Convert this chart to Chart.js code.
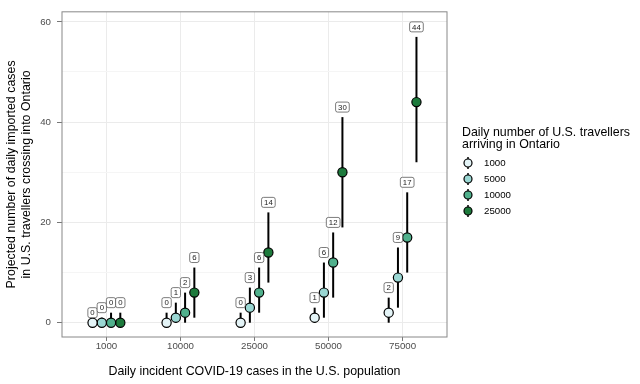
<!DOCTYPE html>
<html>
<head>
<meta charset="utf-8">
<script src="https://cdn.jsdelivr.net/npm/chart.js@4"></script>
<style>
html, body { margin: 0; padding: 0; background: #fff; }
</style>
</head>
<body>
<canvas id="chart" width="640" height="384"></canvas>
<script>
// categories
var cases = ['1000', '10000', '25000', '50000', '75000'];
var travellers = ['1000', '5000', '10000', '25000'];
var yTicks = [0, 20, 40, 60];

// projected cases (estimate, lower, upper) per traveller volume
var est1000 = [0, 0, 0, 1, 2];
var lo1000 = [0, 0, 0, 0, 0];
var hi1000 = [0, 2, 2, 3, 5];

var est5000 = [0, 1, 3, 6, 9];
var lo5000 = [0, 0, 0, 1, 3];
var hi5000 = [1, 4, 7, 12, 15];

var est10000 = [0, 2, 6, 12, 17];
var lo10000 = [0, 0, 2, 5, 10];
var hi10000 = [2, 6, 11, 18, 26];

var est25000 = [0, 6, 14, 30, 44];
var lo25000 = [0, 1, 8, 19, 32];
var hi25000 = [2, 11, 22, 41, 57];

var colors = ['#e4f4f7', '#9ad7d3', '#50b08c', '#1d7a3c'];
var dodge = [-0.1875, -0.0625, 0.0625, 0.1875];
var FONT = '"Liberation Sans", Arial, sans-serif';

var series = [
    { est: est1000, lo: lo1000, hi: hi1000 },
    { est: est5000, lo: lo5000, hi: hi5000 },
    { est: est10000, lo: lo10000, hi: hi10000 },
    { est: est25000, lo: lo25000, hi: hi25000 }
];

var datasets = series.map(function (s, j) {
    return {
        label: travellers[j],
        data: s.est.map(function (v, i) { return { x: i + 1 + dodge[j], y: v }; }),
        backgroundColor: colors[j],
        borderColor: '#000',
        borderWidth: 1.2,
        pointRadius: 4.6,
        pointHoverRadius: 4.6
    };
});

function roundBox(ctx, x, y, w, h, r) {
    ctx.beginPath();
    ctx.moveTo(x + r, y);
    ctx.arcTo(x + w, y, x + w, y + h, r);
    ctx.arcTo(x + w, y + h, x, y + h, r);
    ctx.arcTo(x, y + h, x, y, r);
    ctx.arcTo(x, y, x + w, y, r);
    ctx.closePath();
}

var errorBars = {
    id: 'errorBars',
    beforeDatasetsDraw: function (chart) {
        var ctx = chart.ctx, xs = chart.scales.x, ys = chart.scales.y;
        ctx.save();
        ctx.strokeStyle = '#000';
        ctx.lineWidth = 2;
        series.forEach(function (s, j) {
            s.est.forEach(function (v, i) {
                var x = xs.getPixelForValue(i + 1 + dodge[j]);
                ctx.beginPath();
                ctx.moveTo(x, ys.getPixelForValue(s.lo[i]));
                ctx.lineTo(x, ys.getPixelForValue(s.hi[i]));
                ctx.stroke();
            });
        });
        ctx.restore();
    },
    afterDatasetsDraw: function (chart) {
        // value labels above each bar
        var ctx = chart.ctx, xs = chart.scales.x, ys = chart.scales.y;
        ctx.save();
        ctx.font = '7.8px ' + FONT;
        ctx.textAlign = 'center';
        ctx.textBaseline = 'middle';
        series.forEach(function (s, j) {
            s.est.forEach(function (v, i) {
                var x = xs.getPixelForValue(i + 1 + dodge[j]);
                var y = ys.getPixelForValue(s.hi[i] + 2);
                var txt = String(v);
                var w = ctx.measureText(txt).width + 5;
                var h = 10;
                roundBox(ctx, x - w / 2, y - h / 2, w, h, 2);
                ctx.fillStyle = '#fff';
                ctx.fill();
                ctx.strokeStyle = '#444';
                ctx.lineWidth = 0.7;
                ctx.stroke();
                ctx.fillStyle = '#222';
                ctx.fillText(txt, x, y + 0.5);
            });
        });
        ctx.restore();
    },
    afterDraw: function (chart) {
        var ctx = chart.ctx, a = chart.chartArea;
        ctx.save();
        // panel border
        ctx.strokeStyle = '#888';
        ctx.lineWidth = 1;
        ctx.strokeRect(a.left, a.top, a.right - a.left, a.bottom - a.top);
        // legend
        ctx.fillStyle = '#000';
        ctx.font = '12.4px ' + FONT;
        ctx.textAlign = 'left';
        ctx.textBaseline = 'middle';
        ctx.fillText('Daily number of U.S. travellers', 462, 133);
        ctx.fillText('arriving in Ontario', 462, 145);
        ctx.font = '9.7px ' + FONT;
        travellers.forEach(function (t, j) {
            var y = 163 + j * 16;
            var cx = 468;
            ctx.strokeStyle = '#000';
            ctx.lineWidth = 1.5;
            ctx.beginPath();
            ctx.moveTo(cx, y - 6);
            ctx.lineTo(cx, y + 6);
            ctx.stroke();
            ctx.beginPath();
            ctx.arc(cx, y, 4, 0, Math.PI * 2);
            ctx.fillStyle = colors[j];
            ctx.fill();
            ctx.lineWidth = 1.2;
            ctx.stroke();
            ctx.fillStyle = '#000';
            ctx.fillText(t, 484, y);
        });
        ctx.restore();
    }
};

new Chart(document.getElementById('chart').getContext('2d'), {
    type: 'scatter',
    data: { datasets: datasets },
    options: {
        responsive: false,
        animation: false,
        layout: { padding: { top: 5, right: 193, left: 0, bottom: 0 } },
        plugins: {
            legend: { display: false },
            tooltip: { enabled: false }
        },
        scales: {
            x: {
                type: 'linear',
                min: 0.4,
                max: 5.6,
                afterBuildTicks: function (s) {
                    s.ticks = cases.map(function (c, i) { return { value: i + 1 }; });
                },
                afterFit: function (s) { s.height = 47; },
                ticks: {
                    callback: function (v) { return cases[v - 1]; },
                    color: '#4d4d4d',
                    font: { size: 9.7, family: FONT },
                    padding: 0,
                    maxRotation: 0
                },
                grid: { color: '#ebebeb', lineWidth: 1, tickLength: 4, tickColor: '#777' },
                border: { display: false },
                title: {
                    display: true,
                    text: 'Daily incident COVID-19 cases in the U.S. population',
                    color: '#000',
                    font: { size: 12.4, family: FONT },
                    padding: { top: 0, bottom: 5 }
                }
            },
            y: {
                min: -2.85,
                max: 62,
                afterBuildTicks: function (s) {
                    s.ticks = [0, 10, 20, 30, 40, 50, 60].map(function (v) { return { value: v }; });
                },
                afterFit: function (s) { s.width = 62; },
                ticks: {
                    callback: function (v) { return yTicks.indexOf(v) >= 0 ? String(v) : ''; },
                    color: '#4d4d4d',
                    font: { size: 9.7, family: FONT },
                    padding: 6
                },
                grid: {
                    color: function (c) { return yTicks.indexOf(c.tick.value) >= 0 ? '#ebebeb' : '#f5f5f5'; },
                    tickColor: function (c) { return yTicks.indexOf(c.tick.value) >= 0 ? '#777' : 'rgba(0,0,0,0)'; },
                    lineWidth: 1,
                    tickLength: 5
                },
                border: { display: false },
                title: {
                    display: true,
                    text: ['Projected number of daily imported cases', 'in U.S. travellers crossing into Ontario'],
                    color: '#000',
                    font: { size: 12.4, family: FONT },
                    padding: { top: 4, bottom: 0 }
                }
            }
        }
    },
    plugins: [errorBars]
});
</script>
</body>
</html>
